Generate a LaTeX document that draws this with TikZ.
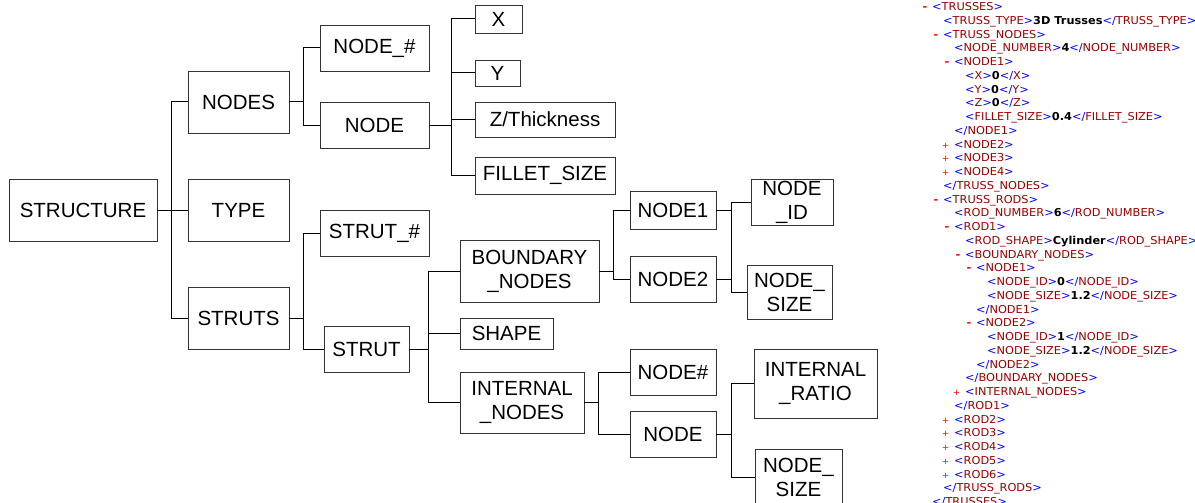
\documentclass[tikz,border=0pt]{standalone}
\usepackage{fontspec}
\setmainfont{Liberation Sans}
\newfontfamily\xmlfont[FakeStretch=1.04]{DejaVu Sans}
\definecolor{xblue}{HTML}{0000FF}
\definecolor{xtag}{HTML}{990000}
\definecolor{xmk}{HTML}{FF0000}
\definecolor{boxc}{HTML}{333333}
\newcommand\xo[1]{\textcolor{xblue}{<}\textcolor{xtag}{#1}\textcolor{xblue}{>}}
\newcommand\xc[1]{\textcolor{xblue}{</}\textcolor{xtag}{#1}\textcolor{xblue}{>}}
\newcommand\xv[1]{\textbf{#1}}
\newcommand\mkm{\llap{\textcolor{xmk}{\textbf{-}}\hspace{5pt}}}
\newcommand\mkp{\llap{\textcolor{xmk}{\fontsize{8.5}{9}\selectfont +}\hspace{5pt}}}
\newcommand\xl[4]{\node[xml] (#1) at ({932+11*#2},{10.7+13.75*#3}) {#4};}
\tikzset{
  box/.style={draw=boxc, line width=0.9pt, inner sep=0pt, align=center,
    font=\fontsize{20.5}{24}\selectfont},
  conn/.style={draw=black, line width=1pt},
  xml/.style={inner sep=0pt, anchor=base west, font=\xmlfont\fontsize{10.9}{12}\selectfont}
}
\begin{document}
\begin{tikzpicture}[x=1pt,y=-1pt]
\useasboundingbox (0,0) rectangle (1195,503);
% level 0-1
\node[box, minimum width=148pt, minimum height=62pt] (structure) at (83,210) {STRUCTURE};
\node[box, minimum width=101pt, minimum height=62pt] (nodes) at (238.5,102) {NODES};
\node[box, minimum width=101pt, minimum height=62pt] (type) at (238.5,210) {TYPE};
\node[box, minimum width=101pt, minimum height=62pt] (struts) at (238.5,318) {STRUTS};
% level 2
\node[box, minimum width=109pt, minimum height=46pt] (nodehash) at (374.5,48) {NODE\_\#};
\node[box, minimum width=109pt, minimum height=46pt] (nodea) at (374.5,125) {NODE};
\node[box, minimum width=109pt, minimum height=46pt] (struthash) at (374.5,233) {STRUT\_\#};
\node[box, minimum width=85pt, minimum height=46pt] (strut) at (366.5,349) {STRUT};
% node children
\node[box, minimum width=47pt, minimum height=28pt] (x) at (498.5,19) {X};
\node[box, minimum width=45pt, minimum height=26pt] (y) at (497.5,73) {Y};
\node[box, minimum width=140pt, minimum height=35pt] (z) at (545,119.5) {Z/Thickness};
\node[box, minimum width=140pt, minimum height=37pt] (fillet) at (545,175.5) {FILLET\_SIZE};
% strut children
\node[box, minimum width=139pt, minimum height=62pt] (bound) at (529.5,271) {BOUNDARY\\\_NODES};
\node[box, minimum width=93pt, minimum height=31pt] (shape) at (506.5,333.5) {SHAPE};
\node[box, minimum width=124pt, minimum height=61pt] (internal) at (522,402.5) {INTERNAL\\\_NODES};
% boundary children
\node[box, minimum width=86pt, minimum height=38pt] (node1) at (673,210) {NODE1};
\node[box, minimum width=86pt, minimum height=46pt] (node2) at (673,279) {NODE2};
\node[box, minimum width=86pt, minimum height=46pt] (nodeh2) at (673,372) {NODE\#};
\node[box, minimum width=86pt, minimum height=46pt] (nodeb) at (673,434) {NODE};
% leaves
\node[box, minimum width=82pt, minimum height=46pt] (nodeid) at (792,202) {NODE\\\_ID};
\node[box, minimum width=85pt, minimum height=54pt] (nsize1) at (789.5,292) {NODE\_\\SIZE};
\node[box, minimum width=123pt, minimum height=69pt] (ratio) at (815.5,383.5) {INTERNAL\\\_RATIO};
\node[box, minimum width=87pt, minimum height=56pt] (nsize2) at (798.5,477) {NODE\_\\SIZE};
% connectors
\draw[conn] (structure.east) -- (type.west);
\draw[conn] (nodes.west) -- ++(-16,0) |- (struts.west);
\draw[conn] (nodehash.west) -- ++(-16,0) |- (nodea.west);
\draw[conn] (nodes.east) -- ++(15,0);
\draw[conn] (struthash.west) -- ++(-16,0) |- (strut.west);
\draw[conn] (struts.east) -- ++(15,0);
\draw[conn] (x.west) -- ++(-23,0) |- (fillet.west);
\draw[conn] (y.west) -- ++(-23,0);
\draw[conn] (z.west) -- ++(-23,0);
\draw[conn] (nodea.east) -- ++(23,0);
\draw[conn] (bound.west) -- ++(-31,0) |- (internal.west);
\draw[conn] (shape.west) -- ++(-31,0);
\draw[conn] (strut.east) -- ++(20,0);
\draw[conn] (node1.west) -- ++(-16,0) |- (node2.west);
\draw[conn] (bound.east) -- ++(15,0);
\draw[conn] (nodeid.west) -- ++(-19,0) |- (nsize1.west);
\draw[conn] (node1.east) -- ++(16,0);
\draw[conn] (node2.east) -- ++(16,0);
\draw[conn] (nodeh2.west) -- ++(-31,0) |- (nodeb.west);
\draw[conn] (internal.east) -- ++(15,0);
\draw[conn] (ratio.west) -- ++(-22,0) |- (nsize2.west);
\draw[conn] (nodeb.east) -- ++(16,0);
% XML listing
\xl{l0}{0}{0}{\mkm\xo{TRUSSES}}
\xl{l1}{1}{1}{\xo{TRUSS\_TYPE}\xv{3D Trusses}\xc{TRUSS\_TYPE}}
\xl{l2}{1}{2}{\mkm\xo{TRUSS\_NODES}}
\xl{l3}{2}{3}{\xo{NODE\_NUMBER}\xv{4}\xc{NODE\_NUMBER}}
\xl{l4}{2}{4}{\mkm\xo{NODE1}}
\xl{l5}{3}{5}{\xo{X}\xv{0}\xc{X}}
\xl{l6}{3}{6}{\xo{Y}\xv{0}\xc{Y}}
\xl{l7}{3}{7}{\xo{Z}\xv{0}\xc{Z}}
\xl{l8}{3}{8}{\xo{FILLET\_SIZE}\xv{0.4}\xc{FILLET\_SIZE}}
\xl{l9}{2}{9}{\xc{NODE1}}
\xl{l10}{2}{10}{\mkp\xo{NODE2}}
\xl{l11}{2}{11}{\mkp\xo{NODE3}}
\xl{l12}{2}{12}{\mkp\xo{NODE4}}
\xl{l13}{1}{13}{\xc{TRUSS\_NODES}}
\xl{l14}{1}{14}{\mkm\xo{TRUSS\_RODS}}
\xl{l15}{2}{15}{\xo{ROD\_NUMBER}\xv{6}\xc{ROD\_NUMBER}}
\xl{l16}{2}{16}{\mkm\xo{ROD1}}
\xl{l17}{3}{17}{\xo{ROD\_SHAPE}\xv{Cylinder}\xc{ROD\_SHAPE}}
\xl{l18}{3}{18}{\mkm\xo{BOUNDARY\_NODES}}
\xl{l19}{4}{19}{\mkm\xo{NODE1}}
\xl{l20}{5}{20}{\xo{NODE\_ID}\xv{0}\xc{NODE\_ID}}
\xl{l21}{5}{21}{\xo{NODE\_SIZE}\xv{1.2}\xc{NODE\_SIZE}}
\xl{l22}{4}{22}{\xc{NODE1}}
\xl{l23}{4}{23}{\mkm\xo{NODE2}}
\xl{l24}{5}{24}{\xo{NODE\_ID}\xv{1}\xc{NODE\_ID}}
\xl{l25}{5}{25}{\xo{NODE\_SIZE}\xv{1.2}\xc{NODE\_SIZE}}
\xl{l26}{4}{26}{\xc{NODE2}}
\xl{l27}{3}{27}{\xc{BOUNDARY\_NODES}}
\xl{l28}{3}{28}{\mkp\xo{INTERNAL\_NODES}}
\xl{l29}{2}{29}{\xc{ROD1}}
\xl{l30}{2}{30}{\mkp\xo{ROD2}}
\xl{l31}{2}{31}{\mkp\xo{ROD3}}
\xl{l32}{2}{32}{\mkp\xo{ROD4}}
\xl{l33}{2}{33}{\mkp\xo{ROD5}}
\xl{l34}{2}{34}{\mkp\xo{ROD6}}
\xl{l35}{1}{35}{\xc{TRUSS\_RODS}}
\xl{l36}{0}{36}{\xc{TRUSSES}}
\end{tikzpicture}
\end{document}
